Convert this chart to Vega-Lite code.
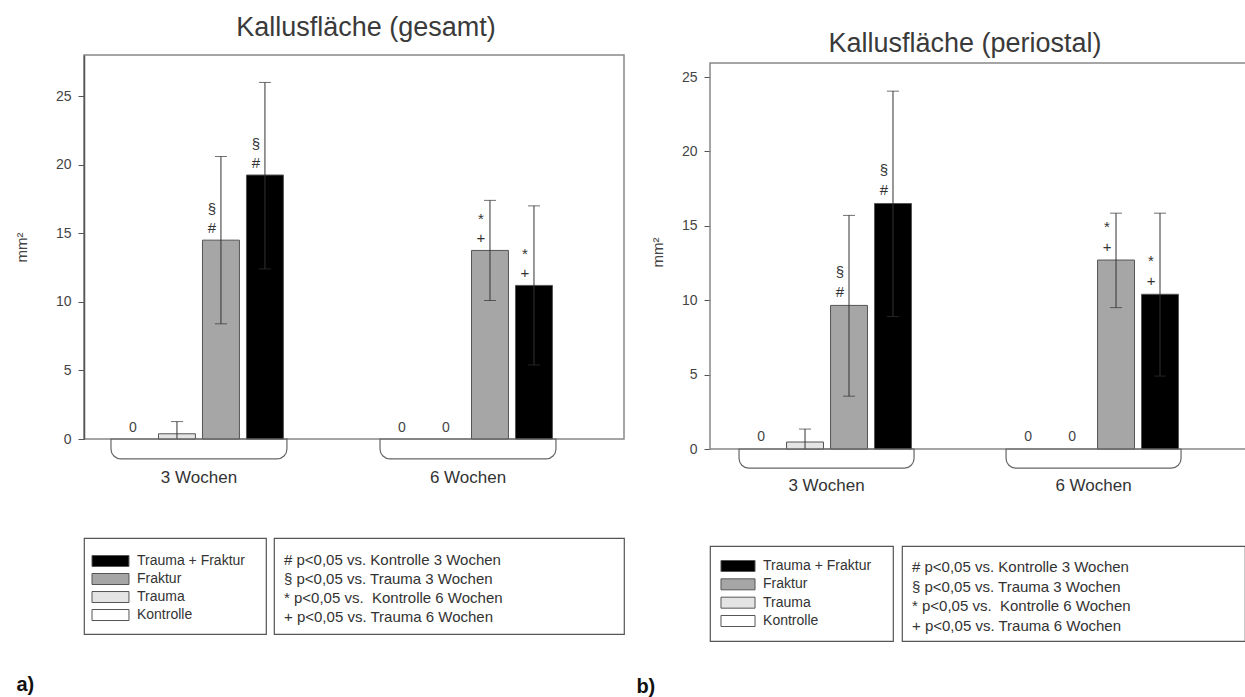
{
  "$schema": "https://vega.github.io/schema/vega-lite/v6.json",
  "padding": {"left": 13, "top": 13, "right": 0, "bottom": 0},
  "config": {
    "font": "Liberation Sans",
    "view": {"stroke": null},
    "axis": {"grid": false},
    "title": {"font": "Liberation Sans"}
  },
  "datasets": {
    "gesamt": [
      {"week": "3 Wochen", "group": "Kontrolle", "mean": 0},
      {"week": "3 Wochen", "group": "Trauma", "mean": 0.38, "lo": 0, "hi": 1.27},
      {"week": "3 Wochen", "group": "Fraktur", "mean": 14.5, "lo": 8.4, "hi": 20.6, "sig1": "#", "sig2": "§"},
      {"week": "3 Wochen", "group": "Trauma + Fraktur", "mean": 19.25, "lo": 12.4, "hi": 26.0, "sig1": "#", "sig2": "§"},
      {"week": "6 Wochen", "group": "Kontrolle", "mean": 0},
      {"week": "6 Wochen", "group": "Trauma", "mean": 0},
      {"week": "6 Wochen", "group": "Fraktur", "mean": 13.75, "lo": 10.1, "hi": 17.4, "sig1": "+", "sig2": "*"},
      {"week": "6 Wochen", "group": "Trauma + Fraktur", "mean": 11.2, "lo": 5.4, "hi": 17.0, "sig1": "+", "sig2": "*"}
    ],
    "periostal": [
      {"week": "3 Wochen", "group": "Kontrolle", "mean": 0},
      {"week": "3 Wochen", "group": "Trauma", "mean": 0.47, "lo": 0, "hi": 1.34},
      {"week": "3 Wochen", "group": "Fraktur", "mean": 9.65, "lo": 3.55, "hi": 15.7, "sig1": "#", "sig2": "§"},
      {"week": "3 Wochen", "group": "Trauma + Fraktur", "mean": 16.5, "lo": 8.9, "hi": 24.05, "sig1": "#", "sig2": "§"},
      {"week": "6 Wochen", "group": "Kontrolle", "mean": 0},
      {"week": "6 Wochen", "group": "Trauma", "mean": 0},
      {"week": "6 Wochen", "group": "Fraktur", "mean": 12.7, "lo": 9.5, "hi": 15.85, "sig1": "+", "sig2": "*"},
      {"week": "6 Wochen", "group": "Trauma + Fraktur", "mean": 10.4, "lo": 4.9, "hi": 15.85, "sig1": "+", "sig2": "*"}
    ],
    "weeks": [{"week": "3 Wochen"}, {"week": "6 Wochen"}],
    "groups": [{"group": "Trauma + Fraktur"}, {"group": "Fraktur"}, {"group": "Trauma"}, {"group": "Kontrolle"}],
    "notes": [
      {"note": "# p<0,05 vs. Kontrolle 3 Wochen"},
      {"note": "§ p<0,05 vs. Trauma 3 Wochen"},
      {"note": "* p<0,05 vs.\u00a0 Kontrolle 6 Wochen"},
      {"note": "+ p<0,05 vs. Trauma 6 Wochen"}
    ]
  },
  "bounds": "full",
  "spacing": 11,
  "resolve": {"scale": {"color": "independent", "x": "independent", "y": "independent"}},
  "hconcat": [
    {
      "bounds": "flush",
      "spacing": 99,
      "resolve": {"scale": {"color": "independent", "x": "independent", "y": "independent"}},
      "vconcat": [
        {
          "width": 540,
          "height": 384,
          "view": {"stroke": "#888", "strokeWidth": 1.5},
          "title": {"text": "Kallusfläche (gesamt)", "fontSize": 27, "fontWeight": "normal", "color": "#3a3a3a", "offset": 13, "dx": 12, "anchor": "middle"},
          "data": {"name": "gesamt"},
          "encoding": {
            "x": {"field": "week", "type": "nominal", "axis": null,
                  "scale": {"type": "band", "domain": ["3 Wochen", "6 Wochen"], "paddingInner": 0.346, "paddingOuter": 0.1766, "align": 0.284}}
          },
          "layer": [
            {
              "transform": [{"filter": "datum.mean > 0"}],
              "mark": {"type": "bar", "stroke": "#555", "strokeWidth": 1},
              "encoding": {
                "xOffset": {"field": "group", "type": "nominal", "scale": {"domain": ["Kontrolle", "Trauma", "Fraktur", "Trauma + Fraktur"], "paddingInner": 0.16, "paddingOuter": 0.08}},
                "y": {"field": "mean", "type": "quantitative", "title": "mm²",
                      "scale": {"domain": [0, 28], "nice": false, "zero": false},
                      "axis": {"values": [0, 5, 10, 15, 20, 25], "tickSize": 6, "labelPadding": 7, "labelFontSize": 14, "labelColor": "#444", "tickColor": "#555", "domainColor": "#555", "domainWidth": 1.5, "titleFontSize": 15, "titleFontWeight": "normal", "titleColor": "#444", "titlePadding": 26}},
                "fill": {"field": "group", "type": "nominal", "legend": null,
                         "scale": {"domain": ["Kontrolle", "Trauma", "Fraktur", "Trauma + Fraktur"], "range": ["#ffffff", "#e4e4e4", "#a6a6a6", "#000000"]}}
              }
            },
            {
              "transform": [{"filter": "isValid(datum.hi)"}],
              "mark": {"type": "rule", "color": "#333", "strokeWidth": 1},
              "encoding": {
                "xOffset": {"field": "group", "type": "nominal"},
                "y": {"field": "lo", "type": "quantitative", "title": "mm²"},
                "y2": {"field": "hi"}
              }
            },
            {
              "transform": [{"filter": "isValid(datum.hi)"}],
              "mark": {"type": "tick", "color": "#333", "size": 12, "thickness": 1},
              "encoding": {
                "xOffset": {"field": "group", "type": "nominal"},
                "y": {"field": "hi", "type": "quantitative", "title": "mm²"}
              }
            },
            {
              "transform": [{"filter": "isValid(datum.lo) && datum.lo > 0"}],
              "mark": {"type": "tick", "color": "#333", "size": 12, "thickness": 1},
              "encoding": {
                "xOffset": {"field": "group", "type": "nominal"},
                "y": {"field": "lo", "type": "quantitative", "title": "mm²"}
              }
            },
            {
              "transform": [{"filter": "datum.mean == 0"}],
              "mark": {"type": "text", "fontSize": 14, "color": "#444", "baseline": "middle", "dy": -11},
              "encoding": {
                "xOffset": {"field": "group", "type": "nominal"},
                "y": {"field": "mean", "type": "quantitative", "title": "mm²"},
                "text": {"field": "mean", "type": "quantitative", "format": "d"}
              }
            },
            {
              "transform": [{"filter": "isValid(datum.sig1)"}],
              "mark": {"type": "text", "fontSize": 15, "color": "#333", "baseline": "middle", "dy": -12, "dx": -9},
              "encoding": {
                "xOffset": {"field": "group", "type": "nominal"},
                "y": {"field": "mean", "type": "quantitative", "title": "mm²"},
                "text": {"field": "sig1"}
              }
            },
            {
              "transform": [{"filter": "isValid(datum.sig2)"}],
              "mark": {"type": "text", "fontSize": 15, "color": "#333", "baseline": "middle", "dy": -31, "dx": -9},
              "encoding": {
                "xOffset": {"field": "group", "type": "nominal"},
                "y": {"field": "mean", "type": "quantitative", "title": "mm²"},
                "text": {"field": "sig2"}
              }
            },
            {
              "data": {"name": "weeks"},
              "mark": {"type": "bar", "filled": false, "stroke": "#666", "strokeWidth": 1.2, "cornerRadiusBottomLeft": 12, "cornerRadiusBottomRight": 12},
              "encoding": {
                "y": {"datum": 0, "type": "quantitative"},
                "y2": {"datum": -1.45}
              }
            },
            {
              "data": {"name": "weeks"},
              "mark": {"type": "text", "fontSize": 17, "color": "#333", "baseline": "middle", "dy": 39},
              "encoding": {
                "y": {"datum": 0, "type": "quantitative"},
                "text": {"field": "week"}
              }
            }
          ]
        },
        {
          "bounds": "flush",
          "spacing": 8,
          "title": {"text": "a)", "orient": "bottom", "anchor": "start", "dx": -67, "offset": 40, "fontSize": 20, "fontWeight": "bold", "color": "#111"},
          "resolve": {"scale": {"color": "independent", "x": "independent", "y": "independent"}},
          "hconcat": [
            {
              "width": 182,
              "height": 96,
              "view": {"stroke": "#555", "strokeWidth": 1.2},
              "data": {"name": "groups"},
              "encoding": {
                "y": {"field": "group", "type": "nominal", "axis": null,
                      "scale": {"type": "band", "domain": ["Trauma + Fraktur", "Fraktur", "Trauma", "Kontrolle"], "paddingInner": 0.389, "paddingOuter": 0.861, "align": 0.565}}
              },
              "layer": [
                {
                  "mark": {"type": "bar", "stroke": "#555", "strokeWidth": 1},
                  "encoding": {
                    "x": {"datum": 0.044, "type": "quantitative", "axis": null, "scale": {"domain": [0, 1], "nice": false, "zero": false}},
                    "x2": {"datum": 0.247},
                    "fill": {"field": "group", "type": "nominal", "legend": null,
                             "scale": {"domain": ["Kontrolle", "Trauma", "Fraktur", "Trauma + Fraktur"], "range": ["#ffffff", "#e4e4e4", "#a6a6a6", "#000000"]}}
                  }
                },
                {
                  "mark": {"type": "text", "align": "left", "baseline": "middle", "fontSize": 14, "color": "#333"},
                  "encoding": {
                    "x": {"datum": 0.291, "type": "quantitative"},
                    "text": {"field": "group"}
                  }
                }
              ]
            },
            {
              "width": 350,
              "height": 96,
              "view": {"stroke": "#555", "strokeWidth": 1.2},
              "data": {"name": "notes"},
              "mark": {"type": "text", "align": "left", "baseline": "middle", "fontSize": 15, "color": "#333", "dx": 10},
              "encoding": {
                "y": {"field": "note", "type": "nominal", "sort": null, "axis": null, "scale": {"type": "point", "padding": 1.026, "align": 0.564}},
                "x": {"datum": 0, "type": "quantitative", "axis": null, "scale": {"domain": [0, 1], "nice": false, "zero": false}},
                "text": {"field": "note"}
              }
            }
          ]
        }
      ]
    },
    {
      "bounds": "flush",
      "spacing": 97,
      "resolve": {"scale": {"color": "independent", "x": "independent", "y": "independent"}},
      "vconcat": [
        {
          "width": 536,
          "height": 394,
          "title": {"text": "Kallusfläche (periostal)", "fontSize": 27, "fontWeight": "normal", "color": "#3a3a3a", "offset": -3, "dx": -13, "anchor": "middle"},
          "data": {"name": "periostal"},
          "layer": [
            {
              "data": {"name": "weeks"},
              "transform": [{"aggregate": [{"op": "count", "as": "n"}]}],
              "mark": {"type": "rect", "filled": false, "stroke": "#888", "strokeWidth": 1.5},
              "encoding": {
                "y": {"datum": 0, "type": "quantitative"},
                "y2": {"datum": 25.94}
              }
            },
            {
              "transform": [{"filter": "datum.mean > 0"}],
              "mark": {"type": "bar", "stroke": "#555", "strokeWidth": 1},
              "encoding": {
                "x": {"field": "week", "type": "nominal", "axis": null,
                      "scale": {"type": "band", "domain": ["3 Wochen", "6 Wochen"], "paddingInner": 0.3446, "paddingOuter": 0.176, "align": 0.309}},
                "xOffset": {"field": "group", "type": "nominal", "scale": {"domain": ["Kontrolle", "Trauma", "Fraktur", "Trauma + Fraktur"], "paddingInner": 0.16, "paddingOuter": 0.08}},
                "y": {"field": "mean", "type": "quantitative", "title": "mm²",
                      "scale": {"domain": [0, 26.48], "nice": false, "zero": false},
                      "axis": {"values": [0, 5, 10, 15, 20, 25], "domain": false, "tickSize": 6, "labelPadding": 7, "labelFontSize": 14, "labelColor": "#444", "tickColor": "#555", "titleFontSize": 15, "titleFontWeight": "normal", "titleColor": "#444", "titlePadding": 16}},
                "fill": {"field": "group", "type": "nominal", "legend": null,
                         "scale": {"domain": ["Kontrolle", "Trauma", "Fraktur", "Trauma + Fraktur"], "range": ["#ffffff", "#ebebeb", "#c4c4c4", "#000000"]}}
              }
            },
            {
              "transform": [{"filter": "isValid(datum.hi)"}],
              "mark": {"type": "rule", "color": "#333", "strokeWidth": 1},
              "encoding": {
                "x": {"field": "week", "type": "nominal"},
                "xOffset": {"field": "group", "type": "nominal"},
                "y": {"field": "lo", "type": "quantitative", "title": "mm²"},
                "y2": {"field": "hi"}
              }
            },
            {
              "transform": [{"filter": "isValid(datum.hi)"}],
              "mark": {"type": "tick", "color": "#333", "size": 12, "thickness": 1},
              "encoding": {
                "x": {"field": "week", "type": "nominal"},
                "xOffset": {"field": "group", "type": "nominal"},
                "y": {"field": "hi", "type": "quantitative", "title": "mm²"}
              }
            },
            {
              "transform": [{"filter": "isValid(datum.lo) && datum.lo > 0"}],
              "mark": {"type": "tick", "color": "#333", "size": 12, "thickness": 1},
              "encoding": {
                "x": {"field": "week", "type": "nominal"},
                "xOffset": {"field": "group", "type": "nominal"},
                "y": {"field": "lo", "type": "quantitative", "title": "mm²"}
              }
            },
            {
              "transform": [{"filter": "datum.mean == 0"}],
              "mark": {"type": "text", "fontSize": 14, "color": "#444", "baseline": "middle", "dy": -12},
              "encoding": {
                "x": {"field": "week", "type": "nominal"},
                "xOffset": {"field": "group", "type": "nominal"},
                "y": {"field": "mean", "type": "quantitative", "title": "mm²"},
                "text": {"field": "mean", "type": "quantitative", "format": "d"}
              }
            },
            {
              "transform": [{"filter": "isValid(datum.sig1)"}],
              "mark": {"type": "text", "fontSize": 15, "color": "#333", "baseline": "middle", "dy": -13, "dx": -9},
              "encoding": {
                "x": {"field": "week", "type": "nominal"},
                "xOffset": {"field": "group", "type": "nominal"},
                "y": {"field": "mean", "type": "quantitative", "title": "mm²"},
                "text": {"field": "sig1"}
              }
            },
            {
              "transform": [{"filter": "isValid(datum.sig2)"}],
              "mark": {"type": "text", "fontSize": 15, "color": "#333", "baseline": "middle", "dy": -33, "dx": -9},
              "encoding": {
                "x": {"field": "week", "type": "nominal"},
                "xOffset": {"field": "group", "type": "nominal"},
                "y": {"field": "mean", "type": "quantitative", "title": "mm²"},
                "text": {"field": "sig2"}
              }
            },
            {
              "data": {"name": "weeks"},
              "mark": {"type": "bar", "filled": false, "stroke": "#666", "strokeWidth": 1.2, "cornerRadiusBottomLeft": 12, "cornerRadiusBottomRight": 12},
              "encoding": {
                "x": {"field": "week", "type": "nominal"},
                "y": {"datum": 0, "type": "quantitative"},
                "y2": {"datum": -1.28}
              }
            },
            {
              "data": {"name": "weeks"},
              "mark": {"type": "text", "fontSize": 17, "color": "#333", "baseline": "middle", "dy": 37},
              "encoding": {
                "x": {"field": "week", "type": "nominal"},
                "y": {"datum": 0, "type": "quantitative"},
                "text": {"field": "week"}
              }
            }
          ]
        },
        {
          "bounds": "flush",
          "spacing": 9,
          "title": {"text": "b)", "orient": "bottom", "anchor": "start", "dx": -73, "offset": 35, "fontSize": 20, "fontWeight": "bold", "color": "#111"},
          "resolve": {"scale": {"color": "independent", "x": "independent", "y": "independent"}},
          "hconcat": [
            {
              "width": 183,
              "height": 95,
              "view": {"stroke": "#555", "strokeWidth": 1.2},
              "data": {"name": "groups"},
              "encoding": {
                "y": {"field": "group", "type": "nominal", "axis": null,
                      "scale": {"type": "band", "domain": ["Trauma + Fraktur", "Fraktur", "Trauma", "Kontrolle"], "paddingInner": 0.4, "paddingOuter": 0.791, "align": 0.5}}
              },
              "layer": [
                {
                  "mark": {"type": "bar", "stroke": "#555", "strokeWidth": 1},
                  "encoding": {
                    "x": {"datum": 0.06, "type": "quantitative", "axis": null, "scale": {"domain": [0, 1], "nice": false, "zero": false}},
                    "x2": {"datum": 0.246},
                    "fill": {"field": "group", "type": "nominal", "legend": null,
                             "scale": {"domain": ["Kontrolle", "Trauma", "Fraktur", "Trauma + Fraktur"], "range": ["#ffffff", "#ebebeb", "#c4c4c4", "#000000"]}}
                  }
                },
                {
                  "mark": {"type": "text", "align": "left", "baseline": "middle", "fontSize": 14, "color": "#333"},
                  "encoding": {
                    "x": {"datum": 0.29, "type": "quantitative"},
                    "text": {"field": "group"}
                  }
                }
              ]
            },
            {
              "width": 343,
              "height": 95,
              "view": {"stroke": "#555", "strokeWidth": 1.2},
              "data": {"name": "notes"},
              "mark": {"type": "text", "align": "left", "baseline": "middle", "fontSize": 15, "color": "#333", "dx": 10},
              "encoding": {
                "y": {"field": "note", "type": "nominal", "sort": null, "axis": null, "scale": {"type": "point", "padding": 0.915, "align": 0.583}},
                "x": {"datum": 0, "type": "quantitative", "axis": null, "scale": {"domain": [0, 1], "nice": false, "zero": false}},
                "text": {"field": "note"}
              }
            }
          ]
        }
      ]
    }
  ]
}
